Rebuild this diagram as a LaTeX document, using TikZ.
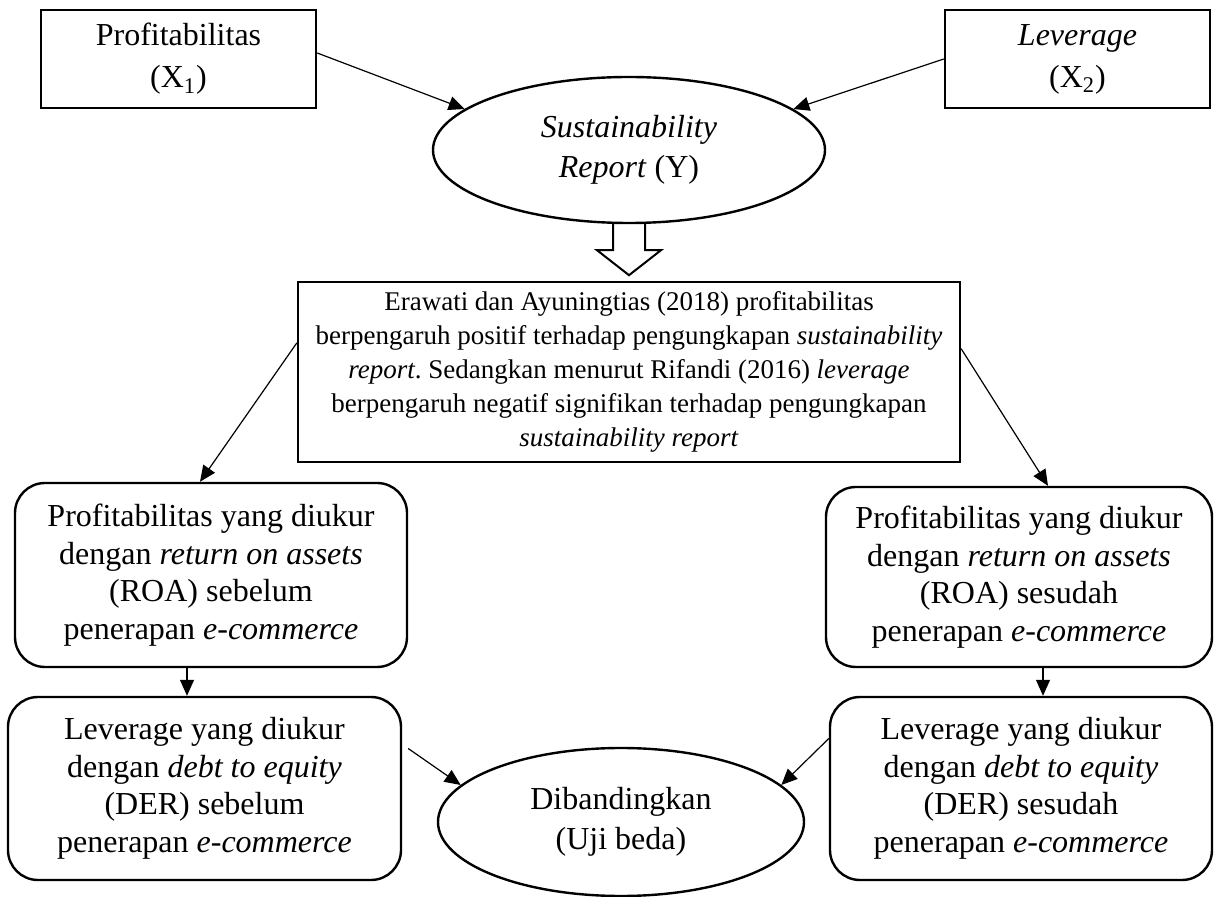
\documentclass[tikz,border=0pt]{standalone}
\usepackage{fontspec}
\setmainfont{Liberation Serif}
\usetikzlibrary{shapes.geometric,arrows.meta}
\frenchspacing

\begin{document}
\begin{tikzpicture}[x = 0.5pt, y = -0.5pt,
                        kotak/.style = {draw, line width = 1.2pt, align = center, inner sep = 0pt, font = {\fontsize{16}{21}\selectfont}},
                        bulat/.style = {ellipse, draw, line width = 1.2pt, align = center, inner sep = 0pt, font = {\fontsize{16}{20}\selectfont}},
                        teks/.style = {draw, line width = 1.2pt, align = center, inner sep = 0pt, font = {\fontsize{13.5}{17}\selectfont}},
                        tumpul/.style = {draw, rounded corners = 15pt, line width = 1.2pt, align = center, inner sep = 0pt, font = {\fontsize{16}{18.75}\selectfont}},
                        panah/.style = {-{Triangle[length = 8pt, width = 7pt]}, line width = 0.6pt}]
      \useasboundingbox (0, 0) rectangle (1216, 897);
      \node [kotak, minimum width = 137.5pt, minimum height = 49pt] (x1) at (178.5, 59){Profitabilitas\\(X\textsubscript{1})};
      \node [kotak, minimum width = 132.5pt, minimum height = 49pt] (x2) at (1077.5, 59){\textit{Leverage}\\(X\textsubscript{2})};
      \node [bulat, minimum width = 196pt, minimum height = 73pt] (y) at (629, 150){\textit{Sustainability}\\\textit{Report} (Y)};
      \node [teks, minimum width = 331pt, minimum height = 90pt] (teori) at (629, 372){Erawati dan Ayuningtias (2018) profitabilitas\\berpengaruh positif terhadap pengungkapan \textit{sustainability}\\\textit{report}. Sedangkan menurut Rifandi (2016) \textit{leverage}\\berpengaruh negatif signifikan terhadap pengungkapan\\\textit{sustainability report}};
      \node [tumpul, minimum width = 196pt, minimum height = 92pt] (roa1) at (211, 575){Profitabilitas yang diukur\\dengan \textit{return on assets}\\(ROA) sebelum\\penerapan \textit{e-commerce}};
      \node [tumpul, minimum width = 193pt, minimum height = 90pt] (roa2) at (1019, 577){Profitabilitas yang diukur\\dengan \textit{return on assets}\\(ROA) sesudah\\penerapan \textit{e-commerce}};
      \node [tumpul, minimum width = 196.5pt, minimum height = 91.5pt] (der1) at (204.5, 788.5){Leverage yang diukur\\dengan \textit{debt to equity}\\(DER) sebelum\\penerapan \textit{e-commerce}};
      \node [tumpul, minimum width = 191pt, minimum height = 91.5pt] (der2) at (1021, 788.5){Leverage yang diukur\\dengan \textit{debt to equity}\\(DER) sesudah\\penerapan \textit{e-commerce}};
      \node [bulat, minimum width = 183pt, minimum height = 74pt] (beda) at (621, 822){Dibandingkan\\(Uji beda)};
      \draw [panah] ([yshift = 3pt]x1.east) -- (y.166);
      \draw [panah] (x2.west) -- (y.14);
      \draw [line width = 1pt] ([xshift = -8pt]y.south) -- ++(0, -13pt) -- ++(-8pt, 0) -- ++(16pt, -12.5pt) -- ++(16pt, 12.5pt) -- ++(-8pt, 0) -- ++(0, 13pt);
      \draw [panah] (teori.175.7) -- ([xshift = -5.5pt]roa1.north);
      \draw [panah] (teori.4.3) -- ([xshift = 14.5pt]roa2.north);
      \draw [panah] ([xshift = -12pt]roa1.south) -- ([xshift = -12pt]roa1.south |- der1.north);
      \draw [panah] ([xshift = 12pt]roa2.south) -- ([xshift = 12pt]roa2.south |- der2.north);
      \draw [panah] ([shift = {(3pt, 20pt)}]der1.east) -- (beda.167);
      \draw [panah] ([yshift = 25pt]der2.west) -- (beda.13.5);
    \end{tikzpicture}
\end{document}
